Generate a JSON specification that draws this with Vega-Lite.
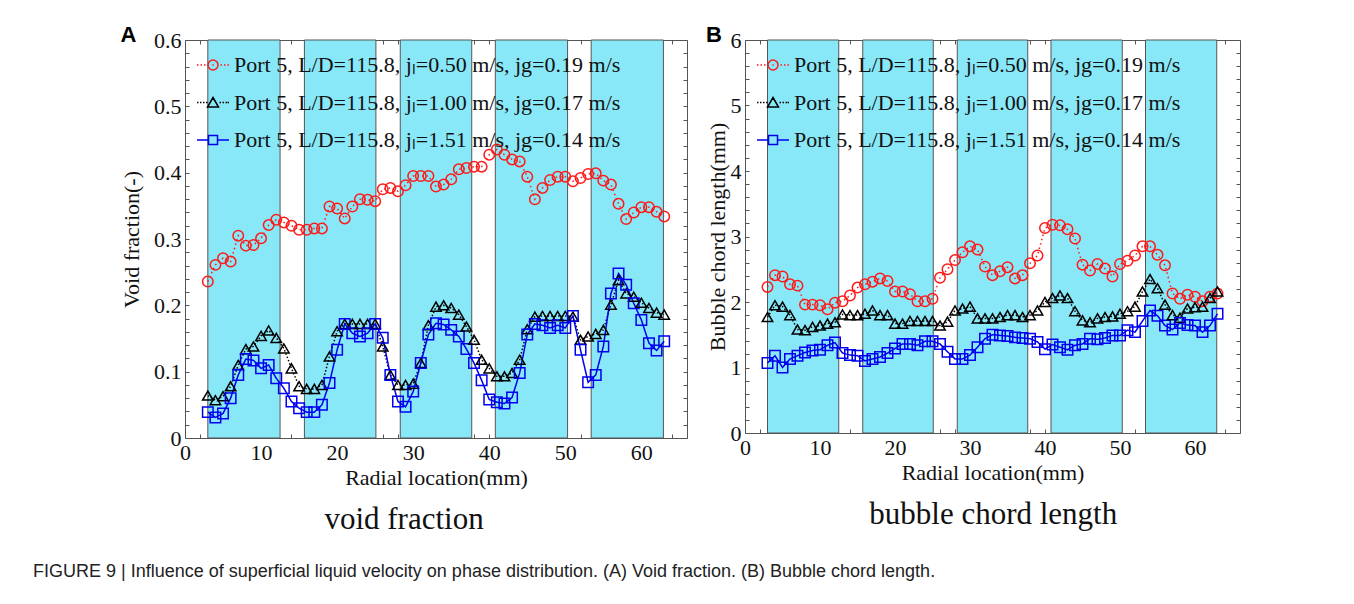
{
  "$schema": "https://vega.github.io/schema/vega-lite/v6.json",
  "background": "white",
  "padding": {"left": 33, "top": 23, "right": 5, "bottom": 5},
  "datasets": {
    "keys": [{"s": "a"}, {"s": "b"}, {"s": "c"}],
    "bands": [
      {"x0": 3.0, "x1": 12.5}, {"x0": 15.7, "x1": 25.1}, {"x0": 28.3, "x1": 37.7}, {"x0": 40.8, "x1": 50.3}, {"x0": 53.4, "x1": 62.9}
    ],
    "A": [
      {"x":3,"a":0.236,"b":0.064,"c":0.039},{"x":4,"a":0.261,"b":0.057,"c":0.031},{"x":5,"a":0.271,"b":0.063,"c":0.037},
      {"x":6,"a":0.266,"b":0.078,"c":0.060},{"x":7,"a":0.305,"b":0.110,"c":0.095},{"x":8,"a":0.290,"b":0.134,"c":0.119},
      {"x":9,"a":0.291,"b":0.138,"c":0.117},{"x":10,"a":0.301,"b":0.154,"c":0.105},{"x":11,"a":0.321,"b":0.162,"c":0.110},
      {"x":12,"a":0.329,"b":0.151,"c":0.090},{"x":13,"a":0.325,"b":0.135,"c":0.075},{"x":14,"a":0.320,"b":0.105,"c":0.055},
      {"x":15,"a":0.314,"b":0.078,"c":0.045},{"x":16,"a":0.314,"b":0.074,"c":0.039},{"x":17,"a":0.316,"b":0.074,"c":0.039},
      {"x":18,"a":0.316,"b":0.080,"c":0.050},{"x":19,"a":0.349,"b":0.123,"c":0.083},{"x":20,"a":0.346,"b":0.161,"c":0.133},
      {"x":21,"a":0.331,"b":0.172,"c":0.172},{"x":22,"a":0.349,"b":0.172,"c":0.158},{"x":23,"a":0.360,"b":0.172,"c":0.153},
      {"x":24,"a":0.359,"b":0.172,"c":0.158},{"x":25,"a":0.357,"b":0.172,"c":0.172},{"x":26,"a":0.375,"b":0.138,"c":0.151},
      {"x":27,"a":0.377,"b":0.095,"c":0.095},{"x":28,"a":0.372,"b":0.080,"c":0.055},{"x":29,"a":0.381,"b":0.080,"c":0.047},
      {"x":30,"a":0.395,"b":0.082,"c":0.070},{"x":31,"a":0.395,"b":0.113,"c":0.113},{"x":32,"a":0.395,"b":0.170,"c":0.156},
      {"x":33,"a":0.379,"b":0.198,"c":0.173},{"x":34,"a":0.382,"b":0.200,"c":0.171},{"x":35,"a":0.390,"b":0.196,"c":0.163},
      {"x":36,"a":0.405,"b":0.186,"c":0.153},{"x":37,"a":0.407,"b":0.168,"c":0.134},{"x":38,"a":0.409,"b":0.148,"c":0.113},
      {"x":39,"a":0.409,"b":0.118,"c":0.087},{"x":40,"a":0.427,"b":0.105,"c":0.058},{"x":41,"a":0.435,"b":0.093,"c":0.054},
      {"x":42,"a":0.427,"b":0.093,"c":0.052},{"x":43,"a":0.420,"b":0.098,"c":0.061},{"x":44,"a":0.417,"b":0.118,"c":0.098},
      {"x":45,"a":0.394,"b":0.164,"c":0.156},{"x":46,"a":0.360,"b":0.183,"c":0.172},{"x":47,"a":0.377,"b":0.184,"c":0.170},
      {"x":48,"a":0.389,"b":0.184,"c":0.166},{"x":49,"a":0.394,"b":0.184,"c":0.170},{"x":50,"a":0.394,"b":0.184,"c":0.166},
      {"x":51,"a":0.387,"b":0.183,"c":0.184},{"x":52,"a":0.392,"b":0.148,"c":0.133},{"x":53,"a":0.398,"b":0.153,"c":0.084},
      {"x":54,"a":0.399,"b":0.157,"c":0.095},{"x":55,"a":0.388,"b":0.163,"c":0.138},{"x":56,"a":0.382,"b":0.201,"c":0.218},
      {"x":57,"a":0.353,"b":0.238,"c":0.248},{"x":58,"a":0.330,"b":0.218,"c":0.231},{"x":59,"a":0.340,"b":0.213,"c":0.203},
      {"x":60,"a":0.348,"b":0.204,"c":0.178},{"x":61,"a":0.348,"b":0.196,"c":0.143},{"x":62,"a":0.341,"b":0.189,"c":0.132},
      {"x":63,"a":0.334,"b":0.186,"c":0.146}
    ],
    "B": [
      {"x":3,"a":2.23,"b":1.77,"c":1.07},{"x":4,"a":2.41,"b":1.95,"c":1.18},{"x":5,"a":2.39,"b":1.93,"c":1.00},
      {"x":6,"a":2.27,"b":1.80,"c":1.13},{"x":7,"a":2.25,"b":1.58,"c":1.18},{"x":8,"a":1.96,"b":1.57,"c":1.23},
      {"x":9,"a":1.96,"b":1.62,"c":1.26},{"x":10,"a":1.95,"b":1.64,"c":1.27},{"x":11,"a":1.89,"b":1.67,"c":1.34},
      {"x":12,"a":1.99,"b":1.69,"c":1.38},{"x":13,"a":2.01,"b":1.81,"c":1.22},{"x":14,"a":2.10,"b":1.80,"c":1.19},
      {"x":15,"a":2.22,"b":1.80,"c":1.18},{"x":16,"a":2.27,"b":1.82,"c":1.10},{"x":17,"a":2.31,"b":1.87,"c":1.13},
      {"x":18,"a":2.36,"b":1.80,"c":1.16},{"x":19,"a":2.32,"b":1.80,"c":1.22},{"x":20,"a":2.16,"b":1.67,"c":1.29},
      {"x":21,"a":2.16,"b":1.67,"c":1.36},{"x":22,"a":2.12,"b":1.71,"c":1.36},{"x":23,"a":2.01,"b":1.71,"c":1.34},
      {"x":24,"a":2.01,"b":1.71,"c":1.40},{"x":25,"a":2.05,"b":1.71,"c":1.40},{"x":26,"a":2.37,"b":1.64,"c":1.36},
      {"x":27,"a":2.50,"b":1.70,"c":1.24},{"x":28,"a":2.64,"b":1.87,"c":1.13},{"x":29,"a":2.76,"b":1.90,"c":1.13},
      {"x":30,"a":2.85,"b":1.93,"c":1.19},{"x":31,"a":2.80,"b":1.75,"c":1.31},{"x":32,"a":2.54,"b":1.75,"c":1.44},
      {"x":33,"a":2.41,"b":1.75,"c":1.50},{"x":34,"a":2.47,"b":1.77,"c":1.49},{"x":35,"a":2.53,"b":1.80,"c":1.48},
      {"x":36,"a":2.36,"b":1.80,"c":1.46},{"x":37,"a":2.41,"b":1.77,"c":1.45},{"x":38,"a":2.59,"b":1.80,"c":1.44},
      {"x":39,"a":2.71,"b":1.87,"c":1.39},{"x":40,"a":3.13,"b":2.00,"c":1.28},{"x":41,"a":3.18,"b":2.06,"c":1.35},
      {"x":42,"a":3.17,"b":2.10,"c":1.31},{"x":43,"a":3.11,"b":2.06,"c":1.27},{"x":44,"a":2.97,"b":1.86,"c":1.34},
      {"x":45,"a":2.57,"b":1.72,"c":1.36},{"x":46,"a":2.48,"b":1.69,"c":1.44},{"x":47,"a":2.58,"b":1.75,"c":1.43},
      {"x":48,"a":2.51,"b":1.77,"c":1.45},{"x":49,"a":2.39,"b":1.78,"c":1.49},{"x":50,"a":2.58,"b":1.82,"c":1.49},
      {"x":51,"a":2.63,"b":1.86,"c":1.57},{"x":52,"a":2.71,"b":1.93,"c":1.54},{"x":53,"a":2.85,"b":2.16,"c":1.71},
      {"x":54,"a":2.85,"b":2.35,"c":1.87},{"x":55,"a":2.72,"b":2.21,"c":1.79},{"x":56,"a":2.56,"b":1.96,"c":1.64},
      {"x":57,"a":2.13,"b":1.80,"c":1.58},{"x":58,"a":2.05,"b":1.76,"c":1.68},{"x":59,"a":2.11,"b":1.90,"c":1.65},
      {"x":60,"a":2.08,"b":1.92,"c":1.64},{"x":61,"a":2.01,"b":1.93,"c":1.54},{"x":62,"a":2.08,"b":2.06,"c":1.64},
      {"x":63,"a":2.13,"b":2.16,"c":1.82}
    ]
  },
  "title": {
    "text": "FIGURE 9 | Influence of superficial liquid velocity on phase distribution. (A) Void fraction. (B) Bubble chord length.",
    "orient": "bottom", "anchor": "start", "frame": "bounds",
    "font": "Liberation Sans", "fontSize": 18, "fontWeight": "normal", "color": "#222",
    "offset": 28, "dx": -87
  },
  "spacing": 17,
  "resolve": {"scale": {"color": "independent", "shape": "independent", "strokeDash": "independent"}, "legend": {"color": "independent", "shape": "independent"}},
  "hconcat": [
    {
      "title": {"text": "void fraction", "orient": "bottom", "anchor": "middle", "font": "Liberation Serif", "fontSize": 31, "fontWeight": "normal", "color": "#111", "offset": 16},
      "resolve": {"scale": {"color": "independent", "shape": "independent", "strokeDash": "independent"}, "legend": {"color": "independent", "shape": "independent"}},
      "vconcat": [
        {
          "width": 502,
          "height": 398,
          "title": {"text": "A", "anchor": "start", "frame": "bounds", "font": "Liberation Sans", "fontSize": 22, "fontWeight": "bold", "color": "#000", "offset": -18},
          "resolve": {"scale": {"color": "independent", "shape": "independent", "strokeDash": "independent"}, "legend": {"color": "independent", "shape": "independent"}},
          "layer": [
            {
              "data": {"name": "bands"},
              "mark": {"type": "rect", "fill": "#89E8F8", "stroke": "#555", "strokeWidth": 1},
              "encoding": {
                "x": {"field": "x0", "type": "quantitative", "scale": {"domain": [0, 66], "nice": false}, "axis": null},
                "x2": {"field": "x1"}
              }
            },
            {
              "data": {"name": "keys"},
              "mark": {"type": "point", "filled": false, "opacity": 0, "size": 100, "strokeWidth": 1.5},
              "encoding": {
                "color": {"field": "s", "type": "nominal", "scale": {"domain": ["a", "b", "c"], "range": ["#ff1a1a", "#000000", "#0000ee"]},
                  "legend": {"orient": "none", "legendX": 17, "legendY": 14, "direction": "vertical", "title": null, "symbolOpacity": 1,
                    "labelExpr": "datum.value == 'a' ? 'Port 5, L/D=115.8, jₗ=0.50 m/s, jg=0.19 m/s' : datum.value == 'b' ? 'Port 5, L/D=115.8, jₗ=1.00 m/s, jg=0.17 m/s' : 'Port 5, L/D=115.8, jₗ=1.51 m/s, jg=0.14 m/s'"}},
                "shape": {"field": "s", "type": "nominal",
                  "scale": {"domain": ["a", "b", "c"], "range": [
                    "M-3.2,0h0.3M-2.5,0h0.3M-1.8,0h0.3M1.5,0h0.3M2.2,0h0.3M2.9,0h0.3M-0.12,0h0.24M1,0A1,1 0 1 1 -1,0A1,1 0 1 1 1,0",
                    "M-3.2,0h0.3M-2.6,0h0.3M-2,0h0.3M-1.4,0h0.3M1.3,0h0.3M1.9,0h0.3M2.5,0h0.3M2.9,0h0.3M0,-1L1.1,0.9L-1.1,0.9Z",
                    "M-3.2,0H-0.9M0.9,0H3.2M-0.9,-0.9H0.9V0.9H-0.9Z"]},
                  "legend": {"orient": "none", "legendX": 17, "legendY": 14, "direction": "vertical", "title": null, "symbolOpacity": 1,
                    "labelExpr": "datum.value == 'a' ? 'Port 5, L/D=115.8, jₗ=0.50 m/s, jg=0.19 m/s' : datum.value == 'b' ? 'Port 5, L/D=115.8, jₗ=1.00 m/s, jg=0.17 m/s' : 'Port 5, L/D=115.8, jₗ=1.51 m/s, jg=0.14 m/s'"}}
              }
            },
            {
              "data": {"name": "A"},
              "transform": [{"fold": ["a", "b", "c"], "as": ["s", "v"]}],
              "mark": {"type": "line", "strokeWidth": 1.5},
              "encoding": {
                "x": {"field": "x", "type": "quantitative", "scale": {"domain": [0, 66], "nice": false},
                  "axis": {"orient": "bottom", "title": "Radial location(mm)", "values": [0,2,4,6,8,10,12,14,16,18,20,22,24,26,28,30,32,34,36,38,40,42,44,46,48,50,52,54,56,58,60,62,64], "labelExpr": "datum.value % 10 == 0 ? datum.label : ''"}},
                "y": {"field": "v", "type": "quantitative", "scale": {"domain": [0, 0.6], "nice": false},
                  "axis": {"orient": "left", "title": "Void fraction(-)", "values": [0,0.02,0.04,0.06,0.08,0.1,0.12,0.14,0.16,0.18,0.2,0.22,0.24,0.26,0.28,0.3,0.32,0.34,0.36,0.38,0.4,0.42,0.44,0.46,0.48,0.5,0.52,0.54,0.56,0.58,0.6], "labelExpr": "abs(datum.value*10 - round(datum.value*10)) < 0.001 ? format(datum.value, '.1~f') : ''"}},
                "color": {"field": "s", "type": "nominal", "scale": {"domain": ["a", "b", "c"], "range": ["#ff1a1a", "#000000", "#0000ee"]}, "legend": null},
                "strokeDash": {"field": "s", "type": "nominal", "scale": {"domain": ["a", "b", "c"], "range": [[1.5, 3], [1.5, 2], [1, 0]]}, "legend": null}
              }
            },
            {
              "data": {"name": "A"},
              "transform": [{"fold": ["a", "b", "c"], "as": ["s", "v"]}],
              "mark": {"type": "point", "filled": false, "strokeWidth": 1.5, "size": 110, "opacity": 1},
              "encoding": {
                "x": {"field": "x", "type": "quantitative",
                  "axis": {"orient": "top", "labels": false, "title": null, "values": [0,2,4,6,8,10,12,14,16,18,20,22,24,26,28,30,32,34,36,38,40,42,44,46,48,50,52,54,56,58,60,62,64]}},
                "y": {"field": "v", "type": "quantitative",
                  "axis": {"orient": "right", "labels": false, "title": null, "values": [0,0.02,0.04,0.06,0.08,0.1,0.12,0.14,0.16,0.18,0.2,0.22,0.24,0.26,0.28,0.3,0.32,0.34,0.36,0.38,0.4,0.42,0.44,0.46,0.48,0.5,0.52,0.54,0.56,0.58,0.6]}},
                "color": {"field": "s", "type": "nominal", "scale": {"domain": ["a", "b", "c"], "range": ["#ff1a1a", "#000000", "#0000ee"]}, "legend": null},
                "shape": {"field": "s", "type": "nominal", "scale": {"domain": ["a", "b", "c"], "range": ["circle", "triangle-up", "square"]}, "legend": null}
              }
            }
          ]
        }
      ]
    },
    {
      "title": {"text": "bubble chord length", "orient": "bottom", "anchor": "middle", "font": "Liberation Serif", "fontSize": 31, "fontWeight": "normal", "color": "#111", "offset": 16, "dx": 20},
      "resolve": {"scale": {"color": "independent", "shape": "independent", "strokeDash": "independent"}, "legend": {"color": "independent", "shape": "independent"}},
      "vconcat": [
        {
          "width": 495,
          "height": 393,
          "title": {"text": "B", "anchor": "start", "frame": "bounds", "font": "Liberation Sans", "fontSize": 22, "fontWeight": "bold", "color": "#000", "offset": -18},
          "resolve": {"scale": {"color": "independent", "shape": "independent", "strokeDash": "independent"}, "legend": {"color": "independent", "shape": "independent"}},
          "layer": [
            {
              "data": {"name": "bands"},
              "mark": {"type": "rect", "fill": "#89E8F8", "stroke": "#555", "strokeWidth": 1},
              "encoding": {
                "x": {"field": "x0", "type": "quantitative", "scale": {"domain": [0, 66], "nice": false}, "axis": null},
                "x2": {"field": "x1"}
              }
            },
            {
              "data": {"name": "keys"},
              "mark": {"type": "point", "filled": false, "opacity": 0, "size": 100, "strokeWidth": 1.5},
              "encoding": {
                "color": {"field": "s", "type": "nominal", "scale": {"domain": ["a", "b", "c"], "range": ["#ff1a1a", "#000000", "#0000ee"]},
                  "legend": {"orient": "none", "legendX": 17, "legendY": 14, "direction": "vertical", "title": null, "symbolOpacity": 1,
                    "labelExpr": "datum.value == 'a' ? 'Port 5, L/D=115.8, jₗ=0.50 m/s, jg=0.19 m/s' : datum.value == 'b' ? 'Port 5, L/D=115.8, jₗ=1.00 m/s, jg=0.17 m/s' : 'Port 5, L/D=115.8, jₗ=1.51 m/s, jg=0.14 m/s'"}},
                "shape": {"field": "s", "type": "nominal",
                  "scale": {"domain": ["a", "b", "c"], "range": [
                    "M-3.2,0h0.3M-2.5,0h0.3M-1.8,0h0.3M1.5,0h0.3M2.2,0h0.3M2.9,0h0.3M-0.12,0h0.24M1,0A1,1 0 1 1 -1,0A1,1 0 1 1 1,0",
                    "M-3.2,0h0.3M-2.6,0h0.3M-2,0h0.3M-1.4,0h0.3M1.3,0h0.3M1.9,0h0.3M2.5,0h0.3M2.9,0h0.3M0,-1L1.1,0.9L-1.1,0.9Z",
                    "M-3.2,0H-0.9M0.9,0H3.2M-0.9,-0.9H0.9V0.9H-0.9Z"]},
                  "legend": {"orient": "none", "legendX": 17, "legendY": 14, "direction": "vertical", "title": null, "symbolOpacity": 1,
                    "labelExpr": "datum.value == 'a' ? 'Port 5, L/D=115.8, jₗ=0.50 m/s, jg=0.19 m/s' : datum.value == 'b' ? 'Port 5, L/D=115.8, jₗ=1.00 m/s, jg=0.17 m/s' : 'Port 5, L/D=115.8, jₗ=1.51 m/s, jg=0.14 m/s'"}}
              }
            },
            {
              "data": {"name": "B"},
              "transform": [{"fold": ["a", "b", "c"], "as": ["s", "v"]}],
              "mark": {"type": "line", "strokeWidth": 1.5},
              "encoding": {
                "x": {"field": "x", "type": "quantitative", "scale": {"domain": [0, 66], "nice": false},
                  "axis": {"orient": "bottom", "title": "Radial location(mm)", "values": [0,2,4,6,8,10,12,14,16,18,20,22,24,26,28,30,32,34,36,38,40,42,44,46,48,50,52,54,56,58,60,62,64], "labelExpr": "datum.value % 10 == 0 ? datum.label : ''"}},
                "y": {"field": "v", "type": "quantitative", "scale": {"domain": [0, 6], "nice": false},
                  "axis": {"orient": "left", "title": "Bubble chord length(mm)", "titlePadding": 1, "values": [0,0.2,0.4,0.6,0.8,1,1.2,1.4,1.6,1.8,2,2.2,2.4,2.6,2.8,3,3.2,3.4,3.6,3.8,4,4.2,4.4,4.6,4.8,5,5.2,5.4,5.6,5.8,6], "labelExpr": "abs(datum.value - round(datum.value)) < 0.001 ? format(datum.value, 'd') : ''"}},
                "color": {"field": "s", "type": "nominal", "scale": {"domain": ["a", "b", "c"], "range": ["#ff1a1a", "#000000", "#0000ee"]}, "legend": null},
                "strokeDash": {"field": "s", "type": "nominal", "scale": {"domain": ["a", "b", "c"], "range": [[1.5, 3], [1.5, 2], [1, 0]]}, "legend": null}
              }
            },
            {
              "data": {"name": "B"},
              "transform": [{"fold": ["a", "b", "c"], "as": ["s", "v"]}],
              "mark": {"type": "point", "filled": false, "strokeWidth": 1.5, "size": 110, "opacity": 1},
              "encoding": {
                "x": {"field": "x", "type": "quantitative",
                  "axis": {"orient": "top", "labels": false, "title": null, "values": [0,2,4,6,8,10,12,14,16,18,20,22,24,26,28,30,32,34,36,38,40,42,44,46,48,50,52,54,56,58,60,62,64]}},
                "y": {"field": "v", "type": "quantitative",
                  "axis": {"orient": "right", "labels": false, "title": null, "values": [0,0.2,0.4,0.6,0.8,1,1.2,1.4,1.6,1.8,2,2.2,2.4,2.6,2.8,3,3.2,3.4,3.6,3.8,4,4.2,4.4,4.6,4.8,5,5.2,5.4,5.6,5.8,6]}},
                "color": {"field": "s", "type": "nominal", "scale": {"domain": ["a", "b", "c"], "range": ["#ff1a1a", "#000000", "#0000ee"]}, "legend": null},
                "shape": {"field": "s", "type": "nominal", "scale": {"domain": ["a", "b", "c"], "range": ["circle", "triangle-up", "square"]}, "legend": null}
              }
            }
          ]
        }
      ]
    }
  ],
  "config": {
    "font": "Liberation Serif",
    "view": {"stroke": "#555", "strokeWidth": 1},
    "axis": {
      "domain": false, "grid": false, "ticks": true, "tickColor": "#555", "tickSize": -4, "tickWidth": 1,
      "labelFont": "Liberation Serif", "labelFontSize": 22, "labelColor": "#111", "labelPadding": 8,
      "labelOverlap": false, "labelFlush": false, "labelBound": false,
      "titleFont": "Liberation Serif", "titleFontSize": 22, "titleFontWeight": "normal", "titleColor": "#111"
    },
    "axisY": {"titlePadding": 10},
    "axisX": {"titlePadding": 4},
    "legend": {
      "labelFont": "Liberation Serif", "labelFontSize": 22, "labelColor": "#111", "labelLimit": 600,
      "symbolSize": 100, "symbolStrokeWidth": 1.5, "labelOffset": 10, "rowPadding": 15.5, "padding": 0
    }
  }
}
